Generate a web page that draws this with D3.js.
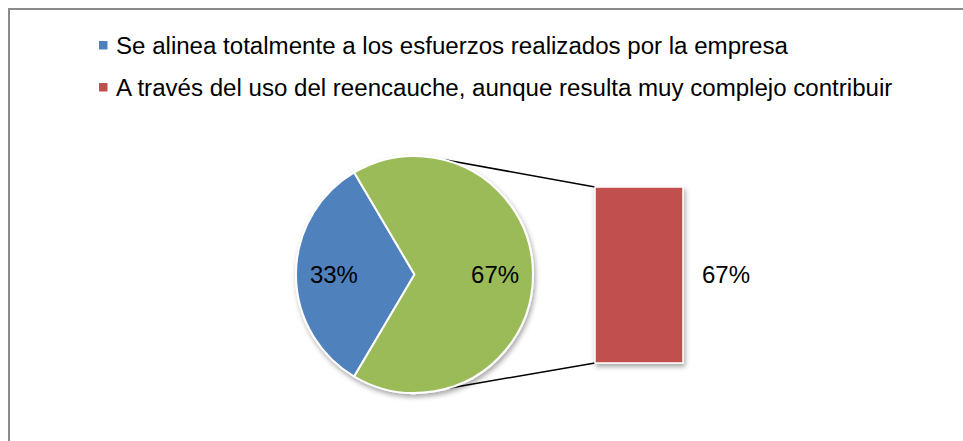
<!DOCTYPE html>
<html>
<head>
<meta charset="utf-8">
<script src="https://cdn.jsdelivr.net/npm/d3@7"></script>
<style>
  html, body { margin: 0; padding: 0; background: #fff; }
  svg { display: block; font-family: "Liberation Sans", Arial, sans-serif; }
</style>
</head>
<body>
<svg id="chart" width="963" height="441"></svg>
<script>
// ---- data ----
const pieCategories = ["Se alinea totalmente a los esfuerzos realizados por la empresa", "Otro"];
const pieValues = [33, 67];
const pieLabels = ["33%", "67%"];
const barCategories = ["A través del uso del reencauche, aunque resulta muy complejo contribuir"];
const barValues = [67];
const barLabels = ["67%"];
const legendLabels = [
  "Se alinea totalmente a los esfuerzos realizados por la empresa",
  "A través del uso del reencauche, aunque resulta muy complejo contribuir"
];
const pieColors = ["#4F81BD", "#9BBB59"];
const barColors = ["#C0504D"];
const legendColors = ["#4F81BD", "#C0504D"];

const svg = d3.select("#chart");

// shadow filter
const defs = svg.append("defs");
const f = defs.append("filter").attr("id", "shadow").attr("x", "-20%").attr("y", "-20%").attr("width", "150%").attr("height", "150%");
f.append("feDropShadow").attr("dx", 1.5).attr("dy", 3).attr("stdDeviation", 2.5)
  .attr("flood-color", "#000").attr("flood-opacity", 0.35);

// chart border
svg.append("path")
  .attr("d", "M9,441 L9,9 L963,9")
  .attr("fill", "none").attr("stroke", "#8a8a8a").attr("stroke-width", 2);

// ---- legend ----
const legend = svg.append("g");
const legendRows = [54, 96];
// fit font size so longest line spans the reference width
const probe = svg.append("text").attr("font-size", 100).text(legendLabels[1]);
const w100 = probe.node().getComputedTextLength();
probe.remove();
const legendFont = 100 * 777 / w100;

legendLabels.forEach((t, i) => {
  legend.append("rect")
    .attr("x", 99).attr("y", legendRows[i] - 13)
    .attr("width", 8.5).attr("height", 8.5)
    .attr("fill", legendColors[i]);
  legend.append("text")
    .attr("x", 116).attr("y", legendRows[i])
    .attr("font-size", legendFont)
    .attr("fill", "#000")
    .text(t);
});

// ---- pie ----
const cx = 414.5, cy = 274.5, r = 118.5;
const blueAngle = pieValues[0] / d3.sum(pieValues) * 2 * Math.PI;
const pie = d3.pie().sort(null)
  .startAngle(1.5 * Math.PI - blueAngle / 2)
  .endAngle(1.5 * Math.PI - blueAngle / 2 + 2 * Math.PI);
const arcs = pie(pieValues);
const arc = d3.arc().innerRadius(0).outerRadius(r);
const labelArc = d3.arc().innerRadius(r * 0.68).outerRadius(r * 0.68);

// connector lines (drawn first, behind pie)
const barScale = d3.scaleLinear().domain([0, d3.sum(barValues)]).range([363, 187]);
const barX = d3.scaleBand().domain(barCategories).range([595, 683]).padding(0);

const topA = 14 * Math.PI / 180, botA = 164 * Math.PI / 180;
const conn = svg.append("g");
conn.append("line")
  .attr("x1", cx + r * Math.sin(topA)).attr("y1", cy - r * Math.cos(topA))
  .attr("x2", barX(barCategories[0])).attr("y2", barScale(barValues[0]))
  .attr("stroke", "#000").attr("stroke-width", 1.5);
conn.append("line")
  .attr("x1", cx + r * Math.sin(botA)).attr("y1", cy - r * Math.cos(botA))
  .attr("x2", barX(barCategories[0])).attr("y2", barScale(0))
  .attr("stroke", "#000").attr("stroke-width", 1.5);

const pg = svg.append("g").attr("transform", `translate(${cx},${cy})`);
pg.append("g").attr("filter", "url(#shadow)")
  .selectAll("path").data(arcs).join("path")
  .attr("d", arc)
  .attr("fill", (d, i) => pieColors[i])
  .attr("stroke", "#fff").attr("stroke-width", 2).attr("stroke-linejoin", "round");

pg.selectAll("text").data(arcs).join("text")
  .attr("transform", d => `translate(${labelArc.centroid(d)})`)
  .attr("text-anchor", "middle").attr("dy", "0.35em")
  .attr("font-size", 24).attr("fill", "#000")
  .text((d, i) => pieLabels[i]);

// ---- bar ----
let acc = 0;
const stack = barValues.map((v, i) => { const s = { y0: acc, y1: acc + v, i }; acc += v; return s; });
svg.append("g").attr("filter", "url(#shadow)")
  .selectAll("rect").data(stack).join("rect")
  .attr("x", barX(barCategories[0]))
  .attr("width", barX.bandwidth())
  .attr("y", d => barScale(d.y1))
  .attr("height", d => barScale(d.y0) - barScale(d.y1))
  .attr("fill", d => barColors[d.i])
  .attr("stroke", "#fff").attr("stroke-width", 1.5);

svg.append("g").selectAll("text").data(stack).join("text")
  .attr("x", barX(barCategories[0]) + barX.bandwidth() + 43)
  .attr("y", d => (barScale(d.y0) + barScale(d.y1)) / 2)
  .attr("text-anchor", "middle").attr("dy", "0.35em")
  .attr("font-size", 24).attr("fill", "#000")
  .text((d) => barLabels[d.i]);
</script>
</body>
</html>
